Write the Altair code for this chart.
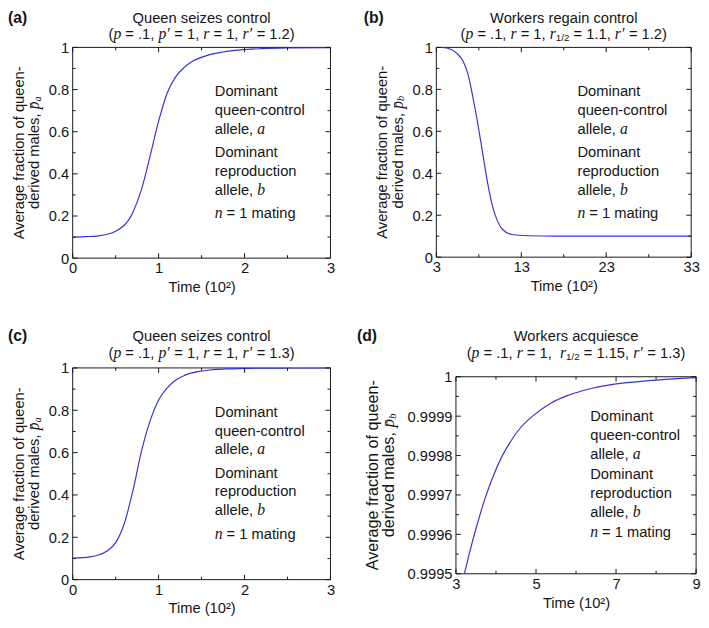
import altair as alt
import pandas as pd

# ---------------- data ----------------
A_TIME = [0, 0.15, 0.3, 0.5, 0.7, 0.8, 0.9, 1.0, 1.1, 1.2, 1.3, 1.4, 1.55, 1.75, 1.95, 2.2, 2.5, 3.0]
A_FRAC = [0.100, 0.102, 0.106, 0.128, 0.217, 0.325, 0.483, 0.650, 0.784, 0.861, 0.906, 0.935, 0.960,
          0.978, 0.988, 0.994, 0.9973, 0.9992]

B_TIME = [3, 3.6, 4.23, 5.38, 6.15, 6.73, 7.31, 7.88, 8.46, 9.04, 9.61, 10.19, 10.77, 11.92, 13.85, 17, 22, 33]
B_FRAC = [1.0, 0.9995, 0.997, 0.973, 0.934, 0.871, 0.761, 0.636, 0.494, 0.353, 0.243, 0.173, 0.133,
          0.108, 0.102, 0.1, 0.1, 0.1]

C_TIME = [0, 0.2, 0.3, 0.4, 0.5, 0.6, 0.7, 0.8, 0.9, 1.0, 1.1, 1.2, 1.3, 1.45, 1.6, 1.8, 2.1, 2.5, 3.0]
C_FRAC = [0.1016, 0.1073, 0.1162, 0.1353, 0.1749, 0.2642, 0.4189, 0.606, 0.749, 0.8488, 0.9061, 0.9433,
          0.9647, 0.9822, 0.9901, 0.9955, 0.9984, 0.9995, 0.9999]

D_TIME = [3.2, 3.33, 3.53, 3.73, 3.94, 4.14, 4.35, 4.55, 4.96, 5.37, 5.78, 6.18, 6.59, 7.0, 7.82, 8.63, 9.0]
D_FRAC = [0.999496, 0.99955, 0.999625, 0.999692, 0.99975, 0.999796, 0.999833, 0.999863, 0.999904,
          0.999933, 0.999952, 0.999965, 0.999975, 0.999982, 0.99999, 0.999996, 0.999998]

TAGS = ["(a)", "(b)", "(c)", "(d)"]
TITLES = ["Queen seizes control", "Workers regain control", "Queen seizes control", "Workers acquiesce"]
# subtitle pieces: 0 = upright text, 1 = italic variable, 2 = subscript
SUBTITLES = [
    [("(", 0), ("p", 1), (" = .1, ", 0), ("p′", 1), (" = 1, ", 0), ("r", 1), (" = 1, ", 0),
     ("r′", 1), (" = 1.2)", 0)],
    [("(", 0), ("p", 1), (" = .1, ", 0), ("r", 1), (" = 1, ", 0), ("r", 1), ("1/2", 2),
     (" = 1.1, ", 0), ("r′", 1), (" = 1.2)", 0)],
    [("(", 0), ("p", 1), (" = .1, ", 0), ("p′", 1), (" = 1, ", 0), ("r", 1), (" = 1, ", 0),
     ("r′", 1), (" = 1.3)", 0)],
    [("(", 0), ("p", 1), (" = .1, ", 0), ("r", 1), (" = 1,  ", 0), ("r", 1), ("1/2", 2),
     (" = 1.15, ", 0), ("r′", 1), (" = 1.3)", 0)],
]
SUBSCRIPTS = ["a", "b", "a", "b"]

X_MAJOR_AC = [0, 1, 2, 3]
X_MINOR_AC = [0.5, 1.5, 2.5]
X_MAJOR_B = [3, 13, 23, 33]
X_MINOR_B = [8, 18, 28]
X_MAJOR_D = [3, 5, 7, 9]
X_MINOR_D = [4, 6, 8]
Y_MAJOR = [0, 0.2, 0.4, 0.6, 0.8, 1]
Y_MINOR = [0.1, 0.3, 0.5, 0.7, 0.9]
Y_MAJOR_D = [0.9995, 0.9996, 0.9997, 0.9998, 0.9999, 1.0]
Y_MINOR_D = [0.99955, 0.99965, 0.99975, 0.99985, 0.99995]

# ---------------- styling ----------------
SANS = "Liberation Sans"
SERIF = "Liberation Serif"
INK = "#151515"
BLUE = "#3434d6"
ONE = pd.DataFrame({"k": [0]})

# approximate glyph advance widths (em) used to place mixed-style text pieces
SANS_W = {"(": .333, ")": .333, " ": .278, "=": .584, ".": .278, ",": .278, "/": .278}
SERIF_I_W = {"p": .5, "r": .389, "′": .25}
UP, IT, SUB = 15, 16, 10


def txt(s, px, py, size=15, font=SANS, style="normal", weight="normal", align="left", angle=0):
    return alt.Chart(ONE).mark_text(
        text=s, font=font, fontSize=size, fontStyle=style, fontWeight=weight,
        align=align, baseline="middle", angle=angle, color=INK,
    ).encode(x=alt.value(px), y=alt.value(py))


def width(s, kind):
    if kind == 1:
        return sum(SERIF_I_W.get(c, .5) for c in s) * IT
    size = UP if kind == 0 else SUB
    return sum(SANS_W.get(c, .556) for c in s) * size


def subtitle_layers(segs, cx, cy):
    total = sum(width(s, k) for s, k in segs)
    cur = cx - total / 2
    out = []
    for s, k in segs:
        lead = len(s) - len(s.lstrip(" "))
        x0 = cur + width(s[:lead], k)
        body = s.strip(" ")
        if k == 0:
            out.append(txt(body, x0, cy, size=UP))
        elif k == 1:
            out.append(txt(body, x0, cy, size=IT, font=SERIF, style="italic"))
        else:
            out.append(txt(body, x0, cy + 4, size=SUB))
        cur += width(s, k)
    return out


def panel(time, frac, i, W, H, inset, xdom, ydom, xmaj, xmin, ymaj, ymin,
          tag_dx, title_dy, ylab_dx, ylab_size, ann_dx, ann_dy):
    top, bottom = inset, inset + H
    xs = alt.Scale(domain=xdom, nice=False, zero=False)
    ys = alt.Scale(domain=ydom, nice=False, zero=False, range=[bottom, top])
    xaxis = alt.Axis(values=xmaj, title="Time (10²)", format="d", ticks=False, tickSize=0,
                     domain=False, grid=False, labelPadding=3, titlePadding=4,
                     labelFontSize=15, titleFontSize=15, labelOverlap=False, labelFlush=False)
    yaxis = alt.Axis(values=ymaj, title=None, format="~g", ticks=False, tickSize=0,
                     domain=False, grid=False, labelPadding=4, labelFontSize=15,
                     labelOverlap=False, labelFlush=False)

    line = alt.Chart(pd.DataFrame({"t": time, "y": frac})).mark_line(
        color=BLUE, strokeWidth=1.2, interpolate="monotone", clip=True
    ).encode(x=alt.X("t:Q", scale=xs, axis=xaxis), y=alt.Y("y:Q", scale=ys, axis=yaxis))

    frame = alt.Chart(ONE).mark_rect(filled=False, stroke=INK, strokeWidth=1).encode(
        x=alt.value(0), x2=alt.value(W), y=alt.value(top), y2=alt.value(bottom))

    layers = [frame, line]

    def xt(vals, ln, at_top):
        y0, y1 = (top, top + ln) if at_top else (bottom - ln, bottom)
        return alt.Chart(pd.DataFrame({"t": vals})).mark_rule(color=INK, strokeWidth=1).encode(
            x=alt.X("t:Q", scale=xs, axis=xaxis), y=alt.value(y0), y2=alt.value(y1))

    def yt(vals, ln, right):
        x0, x1 = (W - ln, W) if right else (0, ln)
        return alt.Chart(pd.DataFrame({"y": vals})).mark_rule(color=INK, strokeWidth=1).encode(
            y=alt.Y("y:Q", scale=ys, axis=yaxis), x=alt.value(x0), x2=alt.value(x1))

    for at_top in (False, True):
        layers += [xt(xmaj, 5, at_top), xt(xmin, 3, at_top)]
    for right in (False, True):
        layers += [yt(ymaj, 5, right), yt(ymin, 3, right)]

    # panel tag and two-line title
    layers.append(txt(TAGS[i], tag_dx, title_dy[0], size=16, weight="bold"))
    layers.append(txt(TITLES[i], W / 2, title_dy[0], align="center"))
    layers += subtitle_layers(SUBTITLES[i], W / 2, title_dy[1])

    # y-axis title (rotated), with italic p-bar and subscript
    k = ylab_size
    cy = top + H / 2
    w_words = 6.78 * k
    total = w_words + 0.5 * k + 0.37 * k
    start = cy + total / 2
    layers.append(txt("Average fraction of queen-", ylab_dx[0], cy, size=k, align="center", angle=270))
    layers.append(txt("derived males,", ylab_dx[1], start, size=k, align="left", angle=270))
    layers.append(txt("p\u0304", ylab_dx[1], start - w_words, size=k + 1, font=SERIF, style="italic",
                      align="left", angle=270))
    layers.append(txt(SUBSCRIPTS[i], ylab_dx[1] + 0.22 * k, start - w_words - 0.53 * k,
                      size=0.7 * k, font=SERIF, style="italic", align="left", angle=270))

    # annotation block
    ax = ann_dx
    ay = [top + v for v in ann_dy]
    layers.append(txt("Dominant", ax, ay[0]))
    layers.append(txt("queen-control", ax, ay[1]))
    layers.append(txt("allele,", ax, ay[2]))
    layers.append(txt("a", ax + 43.4, ay[2], size=16, font=SERIF, style="italic"))
    layers.append(txt("Dominant", ax, ay[3]))
    layers.append(txt("reproduction", ax, ay[4]))
    layers.append(txt("allele,", ax, ay[5]))
    layers.append(txt("b", ax + 43.4, ay[5], size=16, font=SERIF, style="italic"))
    layers.append(txt("n", ax, ay[6], size=16, font=SERIF, style="italic"))
    layers.append(txt("= 1 mating", ax + 12, ay[6]))

    return alt.layer(*layers).properties(width=W, height=H + inset)


ANN_ABC = [45, 64, 83, 107, 126, 145.5, 169.5]
ANN_D = [40, 59.5, 79, 99.5, 119, 138.5, 158.5]

pa = panel(A_TIME, A_FRAC, 0, 263, 215, 0, [0, 3], [0, 1], X_MAJOR_AC, X_MINOR_AC, Y_MAJOR, Y_MINOR,
           -66, (-30, -14), (-55, -39), 15, 145, ANN_ABC)
pb = panel(B_TIME, B_FRAC, 1, 260, 214, 0, [3, 33], [0, 1], X_MAJOR_B, X_MINOR_B, Y_MAJOR, Y_MINOR,
           -74, (-30, -14), (-55, -39), 15, 144, ANN_ABC)
pc = panel(C_TIME, C_FRAC, 2, 263, 216, 0, [0, 3], [0, 1], X_MAJOR_AC, X_MINOR_AC, Y_MAJOR, Y_MINOR,
           -66, (-32, -15), (-55, -39), 15, 145, ANN_ABC)
pd_ = panel(D_TIME, D_FRAC, 3, 245, 201, 9, [3, 9], [0.9995, 1.0], X_MAJOR_D, X_MINOR_D, Y_MAJOR_D, Y_MINOR_D,
            -101, (-32, -15), (-85, -68), 16.5, 137, ANN_D)

row1 = alt.hconcat(pa, pb, spacing=29)
row2 = alt.hconcat(pc, pd_, spacing=22)

chart = alt.vconcat(row1, row2, spacing=35).properties(
    padding={"top": -4, "left": 0, "right": 0, "bottom": 0}
).configure_view(
    stroke="transparent", strokeWidth=0
).configure_axis(
    labelFont=SANS, titleFont=SANS, labelColor=INK, titleColor=INK, titleFontWeight="normal"
)

chart.save("out.html", embed_options={"renderer": "svg", "actions": False})
